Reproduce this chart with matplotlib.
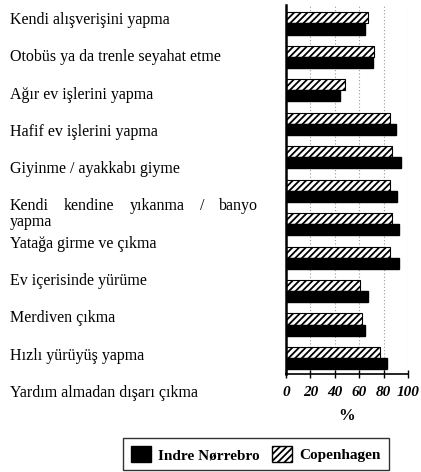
import numpy as np
import matplotlib
matplotlib.use("Agg")
import matplotlib.pyplot as plt
from matplotlib.patches import Patch

# activities (top to bottom)
labels = [
    "Kendi alışverişini yapma",
    "Otobüs ya da trenle seyahat etme",
    "Ağır ev işlerini yapma",
    "Hafif ev işlerini yapma",
    "Giyinme / ayakkabı giyme",
    "Kendi kendine yıkanma / banyo\nyapma",
    "Yatağa girme ve çıkma",
    "Ev içerisinde yürüme",
    "Merdiven çıkma",
    "Hızlı yürüyüş yapma",
    "Yardım almadan dışarı çıkma",
]
# percent able to do the activity
copenhagen = [67, 72, 48, 85, 87, 85, 87, 85, 61, 62, 77]
indre_norrebro = [65, 71, 44, 90, 94, 91, 93, 93, 67, 65, 83]
xticks = [0, 20, 40, 60, 80, 100]

plt.rcParams["font.family"] = ["Liberation Serif", "DejaVu Serif"]
plt.rcParams["hatch.linewidth"] = 1.3

W, H = 421, 472
fig = plt.figure(figsize=(W / 100, H / 100), dpi=100)

# bar axes
ax = fig.add_axes([286 / W, 1 - 374 / H, 122 / W, 369 / H])
y = np.arange(len(labels))
bh = 0.33
ax.barh(y - bh / 2, copenhagen, height=bh, color="white", edgecolor="black",
        hatch="/////", linewidth=0.8)
ax.barh(y + bh / 2, indre_norrebro, height=bh, color="black", edgecolor="black")
ax.set_xlim(0, 100)
ax.set_ylim(10.48, -0.553)
for v in xticks[1:]:
    ax.axvline(v, color="#999999", linestyle=(0, (1, 2)), linewidth=0.8, zorder=0)
ax.set_yticks([])
ax.set_xticks(xticks)
ax.set_xticklabels([str(v) for v in xticks], fontsize=11, fontweight="bold",
                   fontstyle="italic")
ax.tick_params(axis="x", direction="inout", length=6, width=1, pad=6)
for s in ["top", "right"]:
    ax.spines[s].set_visible(False)
ax.spines["left"].set_linewidth(1.8)
ax.spines["bottom"].set_linewidth(1.2)
ax.set_xlabel("%", fontsize=12, fontweight="bold", labelpad=6)

# category labels on the left, evenly spaced
fs = 11.5
x0, x1 = 10, 258  # justified width for wrapped label (px)
label_y = np.linspace(20, 393, len(labels))
renderer = fig.canvas.get_renderer()
for lab, py in zip(labels, label_y):
    lines = lab.split("\n")
    for k, line in enumerate(lines):
        yy = 1 - (py + k * 15) / H
        if len(lines) > 1 and k == 0:
            # justify the first line of the wrapped label
            words = line.split(" ")
            ts = [fig.text(0, yy, w, fontsize=fs, va="center", ha="left") for w in words]
            widths = [t.get_window_extent(renderer).width for t in ts]
            gap = (x1 - x0 - sum(widths)) / (len(words) - 1)
            xp = x0
            for t, wd in zip(ts, widths):
                t.set_x(xp / W)
                xp += wd + gap
        else:
            fig.text(x0 / W, yy, line, fontsize=fs, va="center", ha="left")

handles = [Patch(facecolor="black", edgecolor="black", label="Indre Nørrebro"),
           Patch(facecolor="white", edgecolor="black", hatch="/////", label="Copenhagen")]
fig.legend(handles=handles, loc="center", bbox_to_anchor=(256 / W, 1 - 454 / H), ncol=2,
           frameon=True, fancybox=False, edgecolor="black",
           prop={"weight": "bold", "size": 11}, handlelength=1.3, handleheight=1.3,
           columnspacing=0.8, handletextpad=0.5, borderpad=0.5)

fig.savefig("out.png", dpi=100)
